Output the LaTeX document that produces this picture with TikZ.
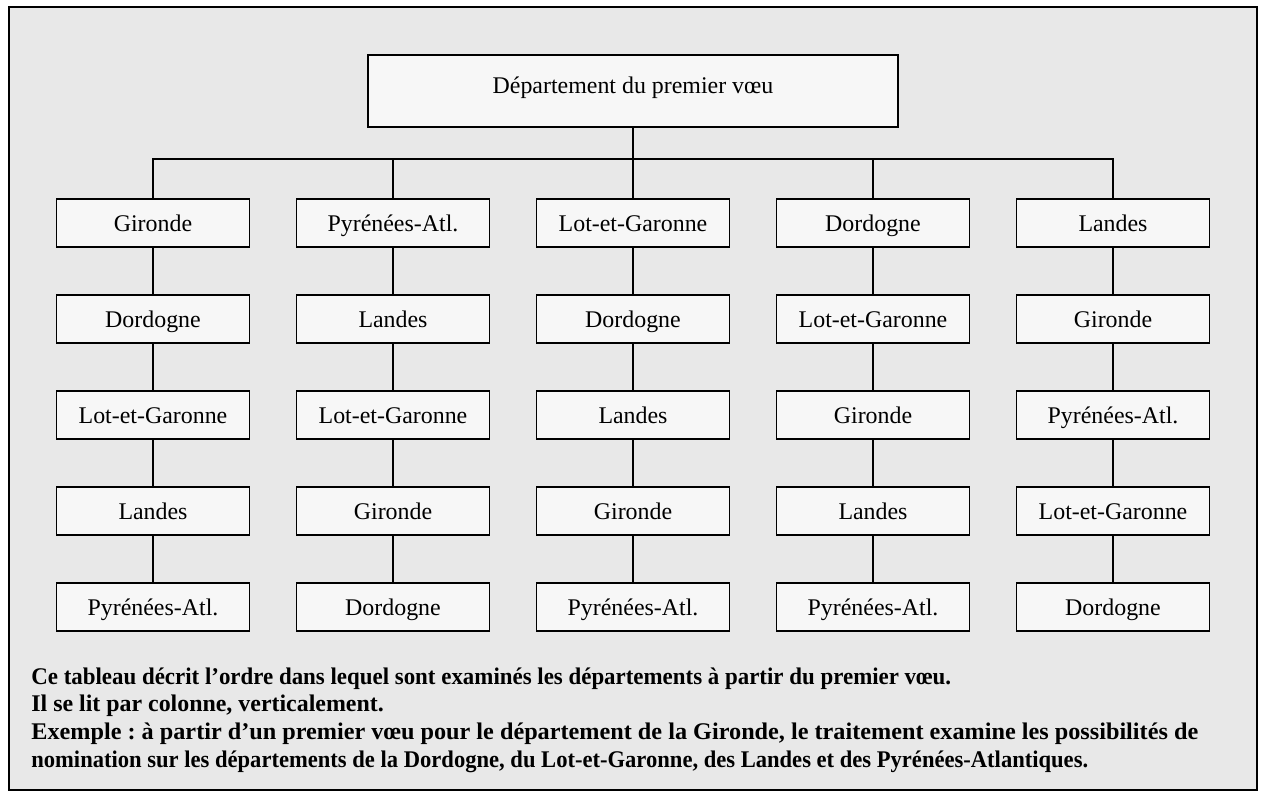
\documentclass[tikz,border=0pt]{standalone}
\usepackage{graphicx}
\usepackage{fontspec}
\setmainfont{Liberation Serif}
\frenchspacing
\definecolor{fond}{HTML}{E8E8E8}
\definecolor{case}{HTML}{F7F7F7}
\tikzset{
  dept/.style={draw,line width=1.1pt,fill=case,minimum width=3.86cm,minimum height=0.96cm,inner sep=0pt,text height=12.8pt,text depth=3pt},
  lien/.style={line width=1.1pt},
  ligne/.style={anchor=base west,inner sep=0pt,font=\fontsize{13.6}{15.7}\selectfont\bfseries}
}
\begin{document}
\begin{tikzpicture}[x=0.02cm,y=-0.02cm,font=\fontsize{13.6}{16}\selectfont]

\useasboundingbox (0,0) rectangle (1261,794);
\draw[line width=1.1pt,fill=fond] (9,7) rectangle (1257,790);

% premier voeu
\node[dept,minimum width=10.6cm,minimum height=1.44cm,text height=11.3pt,text depth=8.7pt] (voeu) at (633,91) {Département du premier vœu};
\coordinate (bus) at (633,159);

% colonne 1
\node[dept] (a1) at (153,223) {Gironde};
\node[dept] (a2) at (153,319) {Dordogne};
\node[dept] (a3) at (153,415) {Lot-et-Garonne};
\node[dept] (a4) at (153,511) {Landes};
\node[dept] (a5) at (153,607) {Pyrénées-Atl.};

% colonne 2
\node[dept] (b1) at (393,223) {Pyrénées-Atl.};
\node[dept] (b2) at (393,319) {Landes};
\node[dept] (b3) at (393,415) {Lot-et-Garonne};
\node[dept] (b4) at (393,511) {Gironde};
\node[dept] (b5) at (393,607) {Dordogne};

% colonne 3
\node[dept] (c1) at (633,223) {Lot-et-Garonne};
\node[dept] (c2) at (633,319) {Dordogne};
\node[dept] (c3) at (633,415) {Landes};
\node[dept] (c4) at (633,511) {Gironde};
\node[dept] (c5) at (633,607) {Pyrénées-Atl.};

% colonne 4
\node[dept] (d1) at (873,223) {Dordogne};
\node[dept] (d2) at (873,319) {Lot-et-Garonne};
\node[dept] (d3) at (873,415) {Gironde};
\node[dept] (d4) at (873,511) {Landes};
\node[dept] (d5) at (873,607) {Pyrénées-Atl.};

% colonne 5
\node[dept] (e1) at (1113,223) {Landes};
\node[dept] (e2) at (1113,319) {Gironde};
\node[dept] (e3) at (1113,415) {Pyrénées-Atl.};
\node[dept] (e4) at (1113,511) {Lot-et-Garonne};
\node[dept] (e5) at (1113,607) {Dordogne};

% liens
\draw[lien] (voeu.south) -- (bus);
\draw[lien] (a1.north) |- (bus) -| (e1.north);
\draw[lien] (b1.north) -- (b1.north |- bus);
\draw[lien] (c1.north) -- (bus);
\draw[lien] (d1.north) -- (d1.north |- bus);

\draw[lien] (a1) -- (a2) (a2) -- (a3) (a3) -- (a4) (a4) -- (a5);
\draw[lien] (b1) -- (b2) (b2) -- (b3) (b3) -- (b4) (b4) -- (b5);
\draw[lien] (c1) -- (c2) (c2) -- (c3) (c3) -- (c4) (c4) -- (c5);
\draw[lien] (d1) -- (d2) (d2) -- (d3) (d3) -- (d4) (d4) -- (d5);
\draw[lien] (e1) -- (e2) (e2) -- (e3) (e3) -- (e4) (e4) -- (e5);

% legende
\node[ligne] (note1) at (31,684) {\resizebox{18.4cm}{\height}{Ce tableau décrit l’ordre dans lequel sont examinés les départements à partir du premier vœu.}};
\node[ligne] (note2) at (31,711.7) {Il se lit par colonne, verticalement.};
\node[ligne] (note3) at (31,739.4) {\resizebox{23.34cm}{\height}{Exemple : à partir d’un premier vœu pour le département de la Gironde, le traitement examine les possibilités de}};
\node[ligne] (note4) at (31,767) {\resizebox{21.14cm}{\height}{nomination sur les départements de la Dordogne, du Lot-et-Garonne, des Landes et des Pyrénées-Atlantiques.}};

\end{tikzpicture}
\end{document}
